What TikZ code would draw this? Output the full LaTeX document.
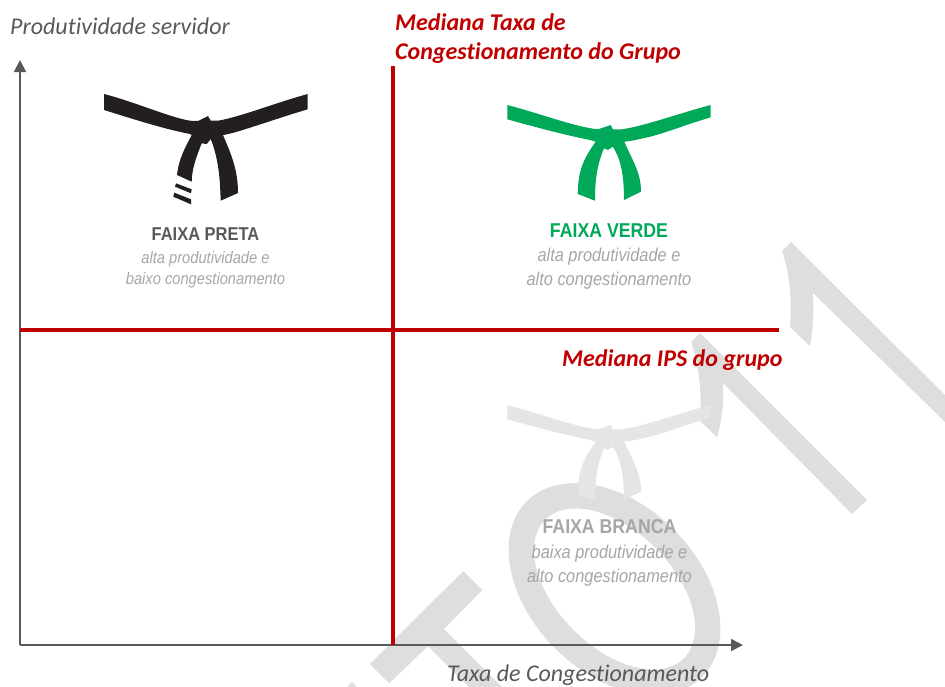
\documentclass[tikz,border=0pt]{standalone}
\usepackage{graphicx}
\usepackage{fontspec}
\setmainfont[Ligatures=CommonOff]{Carlito}
\newfontfamily\arialfont{Liberation Sans}
\usetikzlibrary{arrows.meta}
\newcommand{\narrowtxt}[1]{\scalebox{0.885}[1]{#1}}
\definecolor{wmgray}{HTML}{DEDEDE}
\definecolor{axisgray}{HTML}{595959}
\definecolor{medred}{HTML}{C00000}
\definecolor{beltblack}{HTML}{231F20}
\definecolor{beltgreen}{HTML}{00A859}
\definecolor{beltwhite}{HTML}{E4E5E7}
\definecolor{subgray}{HTML}{A6A6A6}
\tikzset{
  axisline/.style={draw=axisgray,line width=1.8pt,-{Triangle[length=12pt,width=12pt]}},
  medline/.style={draw=medred,line width=4.4pt},
  axislabel/.style={font=\fontsize{24}{24}\selectfont\itshape,text=axisgray,inner sep=0pt,anchor=base west},
  medlabel/.style={font=\fontsize{24}{24}\selectfont\itshape\bfseries,text=medred,inner sep=0pt,anchor=base west},
  belttitle/.style={font=\arialfont\fontsize{20}{20}\selectfont\bfseries,inner sep=0pt},
  smalltitle/.style={font=\arialfont\fontsize{18.6}{18.6}\selectfont\bfseries,inner sep=0pt},
  beltsub/.style={font=\arialfont\fontsize{18.5}{18.5}\selectfont\itshape,text=subgray,inner sep=0pt},
  smallsub/.style={font=\arialfont\fontsize{16.6}{16.6}\selectfont\itshape,text=subgray,inner sep=0pt},
  thinbelt/.pic={
    \fill[pic actions] (507.3,105) .. controls (540,113.5) and (575,127) .. (598,129.3)
      -- (610.7,125) -- (613,129.5) -- (621.7,129.3)
      .. controls (645,126) and (680,113) .. (710.7,105) -- (710.7,117.3)
      .. controls (685,125) and (665,133) .. (650,136.7)
      .. controls (640,139) and (632,141) .. (624.3,141.7)
      .. controls (632,160) and (641,172) .. (641,191.7)
      -- (624,200) .. controls (624,180) and (622,160) .. (612.7,146.7)
      -- (608,150) -- (604,148.3)
      .. controls (597,165) and (595,180) .. (595,200.7)
      -- (577.7,194) .. controls (578,170) and (584,158) .. (595.7,141.7)
      -- (590,140) .. controls (565,135) and (535,127) .. (507.3,119.3) -- cycle;
  }
}
\begin{document}
\begin{tikzpicture}[x=1pt,y=-1pt]
\useasboundingbox (0,0) rectangle (945,686);
% watermark
\begin{scope}
\clip (0,0) rectangle (945,686);
\fill[wmgray] (791,242) -- (945,395) -- (945,422) -- (813,293)
  .. controls (814,312) and (813,330) .. (810,346) -- (790,327)
  .. controls (792,300) and (790,275) .. (782,251) -- cycle;
\fill[wmgray] (700,333) -- (867,500) -- (852,514) -- (723,383)
  .. controls (724,402) and (722,420) .. (717,437) -- (700,421)
  .. controls (702,392) and (699,365) .. (691,342) -- cycle;
\begin{scope}[shift={(614.5,589)},rotate=-45]
\fill[wmgray,even odd rule] (0,0) ellipse [x radius=124pt,y radius=84pt]
  (0,0) ellipse [x radius=98pt,y radius=58pt];
\end{scope}
\fill[wmgray] (463.3,571) -- (482.3,590) -- (444,629) -- (510,695) -- (477,695)
  -- (428,646) -- (389.3,683.3) -- (370,664) -- cycle;
\fill[wmgray] (352,682) -- (340,694) -- (364,694) -- cycle;
\end{scope}
% named line ends
\coordinate (origin) at (20,645);
\coordinate (ytip) at (20,60);
\coordinate (xtip) at (743,645);
\coordinate (vtop) at (393,66);
\coordinate (vbot) at (393,645);
\coordinate (hleft) at (20,330);
\coordinate (hright) at (779,330);
% black belt
\fill[beltblack] (104,94) .. controls (135,102) and (170,117.5) .. (190,120.7)
  -- (198,121) -- (208,116) -- (210.7,120.7) -- (218,120.7)
  .. controls (240,117) and (275,103) .. (307.7,94) -- (307.7,109.3)
  .. controls (285,116) and (265,123) .. (253,126.7)
  .. controls (240,131) and (230,134) .. (223,135)
  .. controls (230,152) and (238,168) .. (238,193)
  -- (220.7,200.7) .. controls (220,180) and (219,160) .. (210.7,139)
  -- (206.7,144) -- (201.7,143.3)
  .. controls (195,160) and (192,170) .. (191.7,181.7)
  -- (177,175) .. controls (179,158) and (185,148) .. (191.7,135)
  -- (190,134) .. controls (160,128) and (130,118) .. (104,110) -- cycle;
\fill[beltblack] (176,183.3) -- (191.7,189.3) -- (191,193.3) -- (175,186.7) -- cycle;
\fill[beltblack] (174.3,192.7) -- (191,199.3) -- (191,204.3) -- (173.3,196.7) -- cycle;
% green and white belts
\pic[fill=beltgreen] {thinbelt};
\pic[fill=beltwhite,yshift=-300pt] {thinbelt};
% axes and medians
\draw[axisline] (origin) -- (ytip);
\draw[axisline] (origin) -- (xtip);
\draw[medline] (vtop) -- (vbot);
\draw[medline] (hleft) -- (hright);
% labels
\node[axislabel] (ylab) at (10,34) {Produtividade servidor};
\node[axislabel] (xlab) at (447,681) {Taxa de Congestionamento};
\node[medlabel] (vlab1) at (395,30.3) {Mediana Taxa de};
\node[medlabel] (vlab2) at (395,59) {Congestionamento do Grupo};
\node[medlabel] (hlab) at (562,366) {Mediana IPS do grupo};
\node[smalltitle,text=axisgray] (pt) at (205.5,234.5) {\narrowtxt{FAIXA PRETA}};
\node[smallsub] (pa) at (205.5,259) {\narrowtxt{alta produtividade e}};
\node[smallsub] (pb) at (205.5,280) {\narrowtxt{baixo congestionamento}};
\node[belttitle,text=beltgreen] (vt) at (609,230.5) {\narrowtxt{FAIXA VERDE}};
\node[beltsub] (va) at (609,256.5) {\narrowtxt{alta produtividade e}};
\node[beltsub] (vb) at (609,280.5) {\narrowtxt{alto congestionamento}};
\node[belttitle,text=subgray] (bt) at (609.5,526.5) {\narrowtxt{FAIXA BRANCA}};
\node[beltsub] (ba) at (609.5,553.5) {\narrowtxt{baixa produtividade e}};
\node[beltsub] (bb) at (609.5,577.5) {\narrowtxt{alto congestionamento}};
\end{tikzpicture}
\end{document}
